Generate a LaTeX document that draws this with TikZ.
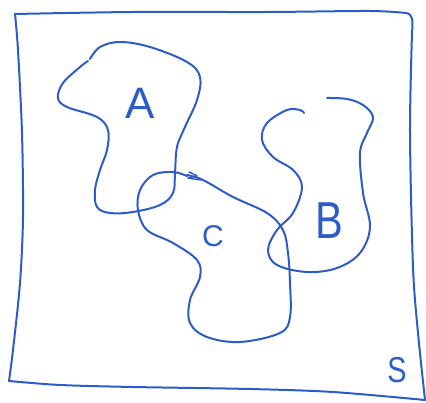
\documentclass[tikz,border=0pt]{standalone}
\usepackage{fontspec}
\setmainfont{Liberation Sans}
\definecolor{ink}{RGB}{45,92,200}
\tikzset{
  stroke/.style={draw=ink, line width=2pt, line cap=round, line join=round},
  letter/.style={text=ink, inner sep=0pt}
}
\begin{document}
\begin{tikzpicture}[x=1pt,y=-1pt]
\useasboundingbox (0,0) rectangle (426,403);
% frame S
\draw[stroke] plot[smooth, tension=0.5] coordinates {(15,14) (133,12) (267,12) (370,11) (406,13)}
  .. controls (413,14) and (413,20) .. (412,33)
  plot[smooth, tension=0.5] coordinates {(412,33) (410,133) (413,267) (418,333) (425,400)};
\draw[stroke] plot[smooth, tension=0.5] coordinates {(15,14) (18,50) (22,133) (23,217) (20,283) (13,350) (9,381)};
\draw[stroke] plot[smooth, tension=0.5] coordinates {(9,381) (60,385) (133,387) (250,389) (333,392) (425,400)};
% A
\draw[stroke] plot[smooth, tension=0.6] coordinates {(90,59) (100,47) (120,42) (150,47) (187,62) (200,77) (197,100) (185,127) (177,147) (175,173) (173,193) (160,205) (133,212) (110,213) (97,207) (95,190) (100,170) (107,150) (108,130) (97,117) (67,107) (58,98) (63,83) (80,67) (88,61)};
% C
\draw[stroke] plot[smooth, tension=0.6] coordinates {(187,175) (203,180) (233,197) (267,213) (283,230) (288,253) (290,283) (290,317) (280,333) (240,342) (207,337) (190,323) (190,300) (200,277) (197,260) (173,243) (147,230) (138,210) (140,190) (153,175) (173,172) (187,176)};
\draw[stroke, line width=1.4pt] plot[smooth, tension=0.3] coordinates {(189,172) (197,176) (188,178) (201,180)};
% B
\draw[stroke] plot[smooth, tension=0.6] coordinates {(304,113) (300,110) (287,110) (267,123) (262,140) (273,157) (293,170) (302,187) (293,213) (277,230) (268,250) (277,265) (307,272) (337,268) (360,253) (370,227) (363,193) (360,153) (367,133) (373,117) (363,105) (347,99) (327,98)};
% labels
\node[letter, font=\fontsize{44}{44}\selectfont] (la) at (140,103) {A};
\node[letter, font=\fontsize{52}{52}\selectfont, xscale=0.8] (lb) at (329,221) {B};
\node[letter, font=\fontsize{30}{30}\selectfont] (lc) at (213,236) {C};
\node[letter, font=\fontsize{36}{36}\selectfont, xscale=0.8] (ls) at (397,370) {S};
\end{tikzpicture}
\end{document}
